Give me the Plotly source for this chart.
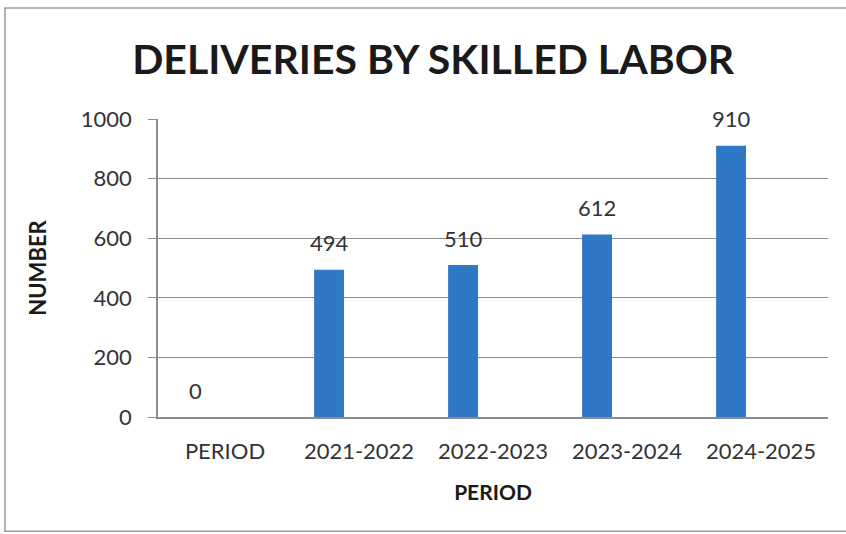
import plotly.graph_objects as go

categories = ["PERIOD", "2021-2022", "2022-2023", "2023-2024", "2024-2025"]
values = [0, 494, 510, 612, 910]
y_ticks = [0, 200, 400, 600, 800, 1000]

BAR_COLOR = "#2E78C6"
FONT = "Lato, 'Open Sans', sans-serif"
TXT = "#333333"

fig = go.Figure()
fig.add_trace(go.Bar(
    x=categories, y=values,
    marker=dict(color=BAR_COLOR, line=dict(width=0)),
    width=0.223, offset=-0.335,
    hoverinfo="x+y",
))

for c, v in zip(categories, values):
    fig.add_annotation(x=c, y=v, text=str(v), showarrow=False,
                       xshift=-29.6, yshift=27, yanchor="middle",
                       font=dict(family=FONT, size=22, color=TXT))

# outer frame
fig.add_shape(type="rect", xref="paper", yref="paper",
              x0=-0.2284, x1=1.08, y0=-0.383, y1=1.3725,
              line=dict(color="#9a9a9a", width=1.5), layer="below")

fig.update_layout(
    width=846, height=534,
    margin=dict(l=158, r=18, t=119, b=117),
    paper_bgcolor="white", plot_bgcolor="white",
    showlegend=False,
    title=dict(text="<b>DELIVERIES BY SKILLED LABOR</b>", x=0.512, xanchor="center",
               y=0.888, yanchor="middle",
               font=dict(family=FONT, size=41, color="#1a1a1a")),
    xaxis=dict(
        type="category", showgrid=False,
        showline=True, linecolor="#8c8c8c", linewidth=1.5,
        ticks="", ticklabelstandoff=14,
        tickfont=dict(family=FONT, size=22, color=TXT),
        title=dict(text="<b>PERIOD</b>", font=dict(family=FONT, size=21, color="#1a1a1a"), standoff=22),
    ),
    yaxis=dict(
        range=[0, 1000], tickvals=y_ticks,
        showgrid=True, gridcolor="#8c8c8c", gridwidth=1.2,
        showline=True, linecolor="#8c8c8c", linewidth=1.5,
        ticks="outside", ticklen=8, tickcolor="#8c8c8c", tickwidth=1.2,
        ticklabelstandoff=12,
        tickfont=dict(family=FONT, size=22, color=TXT),
        title=dict(text="<b>NUMBER</b>", font=dict(family=FONT, size=22, color="#1a1a1a"), standoff=28),
        zeroline=False,
    ),
)

fig.write_html("out.html")
